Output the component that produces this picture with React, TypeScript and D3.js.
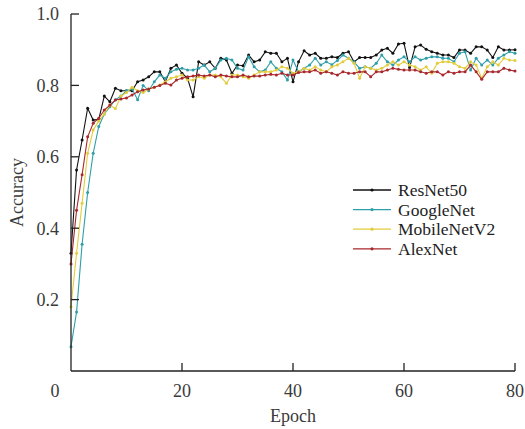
import React from "react";
import * as d3 from "d3";

const seriesNames = ["ResNet50", "GoogleNet", "MobileNetV2", "AlexNet"];
const seriesColors = ["#111111", "#2e9ea8", "#e3cc3c", "#a8282d"];

const resnet50 = [
  0.33, 0.563, 0.647, 0.736, 0.703, 0.705, 0.77, 0.754, 0.792, 0.785,
  0.785, 0.785, 0.81, 0.815, 0.824, 0.838, 0.838, 0.81, 0.848, 0.857,
  0.834, 0.82, 0.768, 0.866, 0.857, 0.866, 0.848, 0.876, 0.871, 0.834,
  0.857, 0.855, 0.885, 0.866, 0.871, 0.894, 0.89, 0.89, 0.866, 0.876,
  0.81, 0.866, 0.897, 0.885, 0.89, 0.876, 0.876, 0.88, 0.878, 0.89,
  0.894, 0.866, 0.878, 0.878, 0.878, 0.885, 0.899, 0.904, 0.89, 0.916,
  0.918, 0.85, 0.908, 0.913, 0.901, 0.894, 0.89, 0.885, 0.885, 0.878,
  0.899, 0.899, 0.89, 0.908, 0.908, 0.899, 0.878, 0.908, 0.899, 0.899,
  0.9,
];

const googlenet = [
  0.068, 0.165, 0.355, 0.5, 0.61, 0.685, 0.72, 0.74, 0.76, 0.77,
  0.785, 0.79, 0.76, 0.8, 0.785, 0.81, 0.829, 0.82, 0.838, 0.845,
  0.848, 0.843, 0.843, 0.848, 0.857, 0.838, 0.848, 0.871, 0.876, 0.871,
  0.848, 0.843, 0.88, 0.852, 0.838, 0.843, 0.866, 0.848, 0.838, 0.815,
  0.871, 0.838, 0.848, 0.857, 0.876, 0.857, 0.866, 0.858, 0.87, 0.885,
  0.876, 0.866, 0.848, 0.852, 0.848, 0.862, 0.885, 0.866, 0.857, 0.871,
  0.88, 0.866, 0.88, 0.871, 0.876, 0.88, 0.88, 0.876, 0.876, 0.866,
  0.89, 0.894, 0.843, 0.876, 0.857, 0.871, 0.857, 0.876, 0.885, 0.894,
  0.89,
];

const mobilenetv2 = [
  0.18, 0.33, 0.47, 0.61, 0.675, 0.7, 0.72, 0.745, 0.735, 0.77,
  0.78, 0.795, 0.785, 0.78, 0.79, 0.795, 0.801, 0.81, 0.82, 0.824,
  0.829, 0.815, 0.815, 0.824, 0.82, 0.829, 0.829, 0.824, 0.806, 0.829,
  0.829, 0.824, 0.82, 0.829, 0.838, 0.838, 0.838, 0.843, 0.852, 0.848,
  0.834, 0.838, 0.848, 0.843, 0.852, 0.843, 0.838, 0.852, 0.857, 0.866,
  0.876, 0.862, 0.82, 0.852, 0.848, 0.843, 0.848, 0.857, 0.866, 0.857,
  0.866, 0.857, 0.852, 0.843, 0.852, 0.834, 0.862, 0.866, 0.866, 0.862,
  0.852, 0.848, 0.866, 0.857, 0.82, 0.852, 0.866, 0.857, 0.876, 0.871,
  0.87,
];

const alexnet = [
  0.3, 0.45, 0.55, 0.656, 0.694, 0.708, 0.731, 0.745, 0.759, 0.762,
  0.765, 0.773, 0.782, 0.787, 0.79, 0.795, 0.8, 0.806, 0.801, 0.815,
  0.82, 0.824, 0.826, 0.829, 0.826, 0.829, 0.824, 0.829, 0.826, 0.824,
  0.824, 0.829, 0.824, 0.826, 0.826, 0.829, 0.831, 0.829, 0.834, 0.829,
  0.829, 0.836, 0.838, 0.838, 0.843, 0.834, 0.838, 0.834, 0.829, 0.838,
  0.834, 0.834, 0.838, 0.838, 0.824, 0.838, 0.838, 0.843, 0.848, 0.845,
  0.843, 0.843, 0.843, 0.838, 0.834, 0.838, 0.838, 0.829, 0.838, 0.834,
  0.838, 0.838, 0.857, 0.838, 0.817, 0.838, 0.838, 0.838, 0.848, 0.843,
  0.84,
];

const allSeries = [resnet50, googlenet, mobilenetv2, alexnet];
const xTicks = [20, 40, 60, 80];
const yTicks = [0.2, 0.4, 0.6, 0.8, 1.0];

export default function App() {
  const W = 525;
  const H = 429;
  const x = d3.scaleLinear().domain([0, 80]).range([71, 515]);
  const y = d3.scaleLinear().domain([0, 1]).range([371, 14]);
  const line = d3
    .line<number>()
    .x((_, i) => x(i))
    .y((d) => y(d));
  const tf = { fontFamily: '"Liberation Serif", "DejaVu Serif", serif' };
  const tickLen = 8;
  const txt = "#3a3a3a";

  return (
    <svg
      width={W}
      height={H}
      style={{ position: "absolute", left: 0, top: 0, background: "#fff" }}
    >
      {allSeries.map((s, k) => (
        <g key={k}>
          <path d={line(s) || ""} fill="none" stroke={seriesColors[k]} strokeWidth={1.1} />
          {s.map((v, i) => (
            <circle key={i} cx={x(i)} cy={y(v)} r={1.5} fill={seriesColors[k]} />
          ))}
        </g>
      ))}

      {/* axes */}
      <line x1={x(0)} x2={x(0)} y1={y(1)} y2={y(0)} stroke="#222" strokeWidth={1.3} />
      <line x1={x(0)} x2={x(80)} y1={y(0)} y2={y(0)} stroke="#222" strokeWidth={1.3} />
      {yTicks.map((t) => (
        <g key={t}>
          <line x1={x(0)} x2={x(0) + tickLen} y1={y(t)} y2={y(t)} stroke="#222" strokeWidth={1.3} />
          <text x={59} y={y(t)} dy="0.35em" textAnchor="end" fontSize={18} fill={txt} style={tf}>
            {t.toFixed(1)}
          </text>
        </g>
      ))}
      {xTicks.map((t) => (
        <g key={t}>
          <line x1={x(t)} x2={x(t)} y1={y(0)} y2={y(0) - tickLen} stroke="#222" strokeWidth={1.3} />
          <text x={x(t)} y={397} textAnchor="middle" fontSize={18} fill={txt} style={tf}>
            {t}
          </text>
        </g>
      ))}
      <text x={55} y={397} textAnchor="middle" fontSize={18} fill={txt} style={tf}>
        0
      </text>
      <text x={293} y={422} textAnchor="middle" fontSize={18} fill={txt} style={tf}>
        Epoch
      </text>
      <text
        transform={`translate(23,${y(0.5)}) rotate(-90)`}
        textAnchor="middle"
        fontSize={18}
        fill={txt}
        style={tf}
      >
        Accuracy
      </text>

      {/* legend */}
      {seriesNames.map((n, k) => {
        const ly = 190 + k * 19.6;
        return (
          <g key={n}>
            <line x1={353} x2={391} y1={ly} y2={ly} stroke={seriesColors[k]} strokeWidth={1.3} />
            <circle cx={372} cy={ly} r={1.6} fill={seriesColors[k]} />
            <text x={398} y={ly} dy="0.35em" fontSize={17.5} fill="#222" style={tf}>
              {n}
            </text>
          </g>
        );
      })}
    </svg>
  );
}
